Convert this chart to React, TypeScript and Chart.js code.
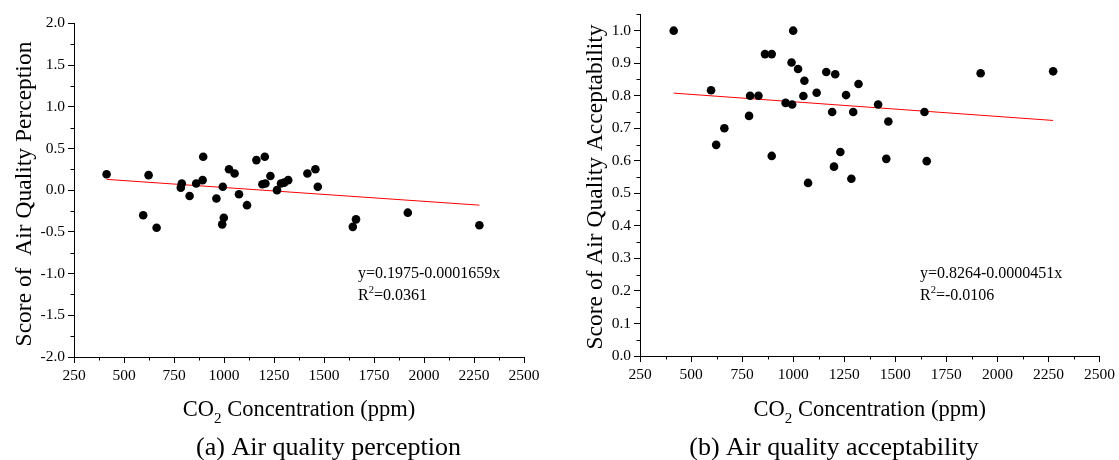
import React, { useEffect, useRef } from "react";
import { Chart, registerables } from "chart.js";

Chart.register(...registerables);

// ---------- data ----------
const X_TICKS = [250, 500, 750, 1000, 1250, 1500, 1750, 2000, 2250, 2500];
const X_MINOR = [375, 625, 875, 1125, 1375, 1625, 1875, 2125, 2375];

const PERCEPTION_Y_TICKS = [-2.0, -1.5, -1.0, -0.5, 0.0, 0.5, 1.0, 1.5, 2.0];
const PERCEPTION_Y_MINOR = [-1.75, -1.25, -0.75, -0.25, 0.25, 0.75, 1.25, 1.75];
const ACCEPT_Y_TICKS = [0.0, 0.1, 0.2, 0.3, 0.4, 0.5, 0.6, 0.7, 0.8, 0.9, 1.0];
const ACCEPT_Y_MINOR = [0.05, 0.15, 0.25, 0.35, 0.45, 0.55, 0.65, 0.75, 0.85, 0.95, 1.05];

const perceptionCO2 = [
  413, 596, 623, 663, 784, 789, 828, 861, 893, 896, 962, 991, 994, 999, 1025, 1053, 1075,
  1115, 1162, 1192, 1204, 1207, 1232, 1265, 1285, 1301, 1321, 1417, 1457, 1469, 1644, 1660,
  1919, 2277,
];
const perceptionScore = [
  0.19, -0.3, 0.18, -0.45, 0.03, 0.08, -0.07, 0.08, 0.12, 0.4, -0.1, -0.41, 0.04, -0.33, 0.25,
  0.2, -0.05, -0.18, 0.36, 0.07, 0.4, 0.08, 0.17, 0.0, 0.08, 0.09, 0.12, 0.2, 0.25, 0.04, -0.44,
  -0.35, -0.27, -0.42,
];
const perceptionFitCO2 = [413, 2277];
const perceptionFitScore = [0.129, -0.18];

const acceptCO2 = [
  415, 598, 623, 663, 784, 789, 830, 862, 895, 895, 963, 995, 1000, 992, 1024, 1055, 1050, 1073,
  1115, 1162, 1206, 1191, 1231, 1200, 1259, 1320, 1294, 1416, 1466, 1643, 1918, 2273, 1456, 1654,
  1285,
];
const acceptScore = [
  1.0, 0.817, 0.649, 0.7, 0.738, 0.8, 0.8, 0.928, 0.928, 0.615, 0.778, 0.773, 1.0, 0.902, 0.882,
  0.846, 0.799, 0.532, 0.809, 0.873, 0.866, 0.75, 0.627, 0.582, 0.802, 0.836, 0.75, 0.773, 0.721,
  0.75, 0.869, 0.875, 0.606, 0.599, 0.545,
];
const acceptFitCO2 = [415, 2273];
const acceptFitScore = [0.808, 0.724];

const SERIF = "'Liberation Serif', 'Times New Roman', serif";

type Spec = {
  left: number;
  width: number;
  height: number;
  area: { left: number; right: number; top: number; bottom: number };
  yMin: number;
  yMax: number;
  yTicks: number[];
  yMinor: number[];
  co2: number[];
  score: number[];
  fitCO2: number[];
  fitScore: number[];
  yTitle: string;
  yTitleX: number;
  yTitleY: number;
  caption: string;
  captionX: number;
  eq1: string;
  eq2: string;
  eqX: number;
};

const PANELS: Spec[] = [
  {
    left: 0,
    width: 560,
    height: 460,
    area: { left: 74, right: 524, top: 23.3, bottom: 357 },
    yMin: -2,
    yMax: 2,
    yTicks: PERCEPTION_Y_TICKS,
    yMinor: PERCEPTION_Y_MINOR,
    co2: perceptionCO2,
    score: perceptionScore,
    fitCO2: perceptionFitCO2,
    fitScore: perceptionFitScore,
    yTitle: "Score of  Air Quality Perception",
    yTitleX: 31,
    yTitleY: 194,
    caption: "(a) Air quality perception",
    captionX: 328.5,
    eq1: "y=0.1975-0.0001659x",
    eq2: "=0.0361",
    eqX: 358,
  },
  {
    left: 560,
    width: 559,
    height: 460,
    area: { left: 80, right: 543, top: 14.4, bottom: 356 },
    yMin: 0,
    yMax: 1.05,
    yTicks: ACCEPT_Y_TICKS,
    yMinor: ACCEPT_Y_MINOR,
    co2: acceptCO2,
    score: acceptScore,
    fitCO2: acceptFitCO2,
    fitScore: acceptFitScore,
    yTitle: "Score of Air Quality Acceptability",
    yTitleX: 42,
    yTitleY: 187,
    caption: "(b) Air quality acceptability",
    captionX: 274,
    eq1: "y=0.8264-0.0000451x",
    eq2: "=-0.0106",
    eqX: 360,
  },
];

function Panel({ spec }: { spec: Spec }) {
  const ref = useRef<HTMLCanvasElement | null>(null);

  useEffect(() => {
    const canvas = ref.current;
    if (!canvas) return;

    const decor = {
      id: "decor",
      afterDraw(chart: any) {
        const { ctx, chartArea, scales } = chart;
        const x = scales.x;
        const y = scales.y;
        ctx.save();
        // minor ticks
        ctx.strokeStyle = "#000";
        ctx.lineWidth = 1;
        ctx.beginPath();
        for (const v of X_MINOR) {
          const px = Math.round(x.getPixelForValue(v)) + 0.5;
          ctx.moveTo(px, chartArea.bottom);
          ctx.lineTo(px, chartArea.bottom + 3.5);
        }
        for (const v of spec.yMinor) {
          const py = Math.round(y.getPixelForValue(v)) + 0.5;
          ctx.moveTo(chartArea.left - 3.5, py);
          ctx.lineTo(chartArea.left, py);
        }
        ctx.stroke();

        ctx.fillStyle = "#000";
        // y title
        ctx.save();
        ctx.font = `23.5px ${SERIF}`;
        ctx.translate(spec.yTitleX, spec.yTitleY);
        ctx.rotate(-Math.PI / 2);
        ctx.textAlign = "center";
        ctx.textBaseline = "alphabetic";
        ctx.fillText(spec.yTitle, 0, 0);
        ctx.restore();

        // x title with subscript
        ctx.textAlign = "left";
        ctx.textBaseline = "alphabetic";
        const mainFont = `22.5px ${SERIF}`;
        const subFont = `15px ${SERIF}`;
        ctx.font = mainFont;
        const wCO = ctx.measureText("CO").width;
        const rest = " Concentration (ppm)";
        const wRest = ctx.measureText(rest).width;
        ctx.font = subFont;
        const wSub = ctx.measureText("2").width;
        const total = wCO + wSub + wRest;
        const cx = (chartArea.left + chartArea.right) / 2;
        let sx = cx - total / 2;
        const tBase = 415.5;
        ctx.font = mainFont;
        ctx.fillText("CO", sx, tBase);
        sx += wCO;
        ctx.font = subFont;
        ctx.fillText("2", sx, tBase + 7);
        sx += wSub;
        ctx.font = mainFont;
        ctx.fillText(rest, sx, tBase);

        // caption
        ctx.font = `26px ${SERIF}`;
        ctx.textAlign = "center";
        ctx.fillText(spec.caption, spec.captionX, 455);

        // regression equation
        ctx.textAlign = "left";
        ctx.font = `16px ${SERIF}`;
        ctx.fillText(spec.eq1, spec.eqX, 277.5);
        ctx.fillText("R", spec.eqX, 300);
        const wR = ctx.measureText("R").width;
        ctx.font = `10.5px ${SERIF}`;
        ctx.fillText("2", spec.eqX + wR, 293);
        const w2 = ctx.measureText("2").width;
        ctx.font = `16px ${SERIF}`;
        ctx.fillText(spec.eq2, spec.eqX + wR + w2, 300);
        ctx.restore();
      },
    };

    const tickFont = { family: SERIF, size: 15.5 };
    const chart = new Chart(canvas, {
      type: "scatter",
      data: {
        datasets: [
          {
            data: spec.co2.map((v, i) => ({ x: v, y: spec.score[i] })),
            backgroundColor: "#000",
            borderColor: "#000",
            borderWidth: 0,
            pointRadius: 4.3,
            pointHoverRadius: 4.3,
          },
          {
            type: "line",
            data: spec.fitCO2.map((v, i) => ({ x: v, y: spec.fitScore[i] })),
            borderColor: "#ff0000",
            borderWidth: 1,
            pointRadius: 0,
            showLine: true,
            fill: false,
          } as any,
        ],
      },
      options: {
        animation: false,
        responsive: false,
        maintainAspectRatio: false,
        events: [],
        layout: {
          padding: {
            left: 0,
            right: spec.width - spec.area.right,
            top: spec.area.top,
            bottom: 0,
          },
        },
        plugins: {
          legend: { display: false },
          tooltip: { enabled: false },
          title: { display: false },
        },
        scales: {
          x: {
            type: "linear",
            min: 250,
            max: 2500,
            afterBuildTicks: (scale: any) => {
              scale.ticks = X_TICKS.map((v) => ({ value: v }));
            },
            afterFit: (scale: any) => {
              scale.height = spec.height - spec.area.bottom;
            },
            grid: {
              display: true,
              drawOnChartArea: false,
              drawTicks: true,
              tickLength: 6,
              color: "#000",
            },
            border: { display: true, color: "#000", width: 1 },
            ticks: {
              font: tickFont,
              color: "#000",
              padding: 4,
              maxRotation: 0,
              autoSkip: false,
              callback: (v: any) => String(v),
            },
          },
          y: {
            type: "linear",
            min: spec.yMin,
            max: spec.yMax,
            afterBuildTicks: (scale: any) => {
              scale.ticks = spec.yTicks.map((v) => ({ value: v }));
            },
            afterFit: (scale: any) => {
              scale.width = spec.area.left;
            },
            grid: {
              display: true,
              drawOnChartArea: false,
              drawTicks: true,
              tickLength: 6,
              color: "#000",
            },
            border: { display: true, color: "#000", width: 1 },
            ticks: {
              font: tickFont,
              color: "#000",
              padding: 3,
              autoSkip: false,
              callback: (v: any) => Number(v).toFixed(1),
            },
          },
        },
      },
      plugins: [decor],
    });

    return () => chart.destroy();
  }, [spec]);

  return (
    <div
      style={{
        position: "absolute",
        left: spec.left,
        top: 0,
        width: spec.width,
        height: spec.height,
      }}
    >
      <canvas
        ref={ref}
        width={spec.width}
        height={spec.height}
        style={{ width: spec.width, height: spec.height, display: "block" }}
      />
    </div>
  );
}

export default function App() {
  return (
    <div
      style={{
        position: "absolute",
        left: 0,
        top: 0,
        width: 1119,
        height: 460,
        background: "#fff",
        overflow: "hidden",
      }}
    >
      {PANELS.map((p, i) => (
        <Panel key={i} spec={p} />
      ))}
    </div>
  );
}
